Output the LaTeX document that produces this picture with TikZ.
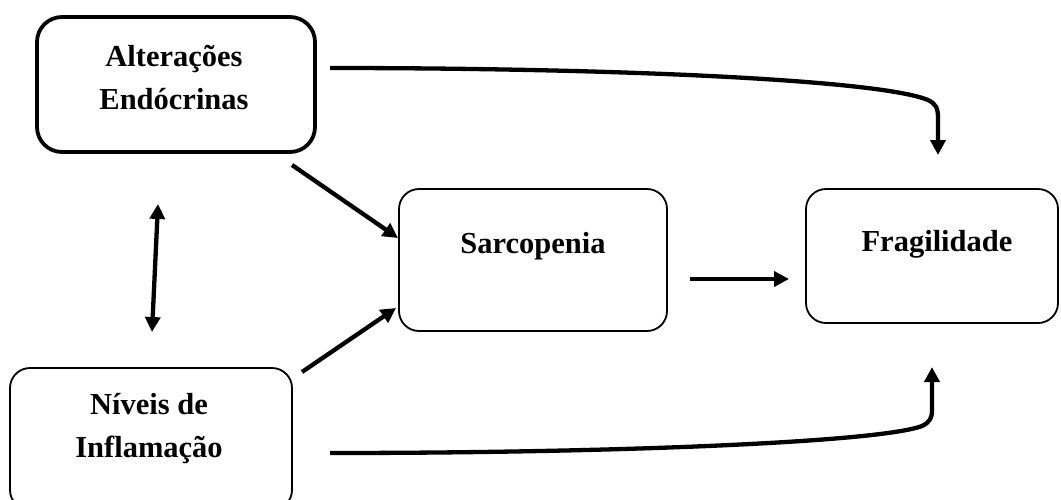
\documentclass[tikz,border=0pt]{standalone}
\usepackage{fontspec}
\setmainfont{Liberation Serif}
\usetikzlibrary{arrows.meta}
\begin{document}
\begin{tikzpicture}[x=1pt,y=-1pt,
  box/.style={draw,rounded corners=20pt,line width=1.8pt,inner sep=0pt},
  lbl/.style={font=\bfseries\fontsize{30.5}{43}\selectfont,align=center,inner sep=0pt},
  arr/.style={line width=4.3pt,line join=round,-{Triangle[length=15pt,width=15pt]}},
  darr/.style={line width=4.3pt,{Triangle[length=15pt,width=15pt]}-{Triangle[length=15pt,width=15pt]}}]
\useasboundingbox (0,0) rectangle (1061,499);
% boxes
\node[box,line width=3.8pt,rounded corners=25pt,minimum width=278pt,minimum height=135pt] (alt) at (176,84.5) {};
\node[box,minimum width=268pt,minimum height=142pt] (sar) at (533,260) {};
\node[box,minimum width=252pt,minimum height=134pt] (fra) at (932,256) {};
\node[box,minimum width=282pt,minimum height=142pt] (niv) at (151,439) {};
% labels
\node[lbl] (altt) at (174,78) {Alterações\\Endócrinas};
\node[lbl] (sart) at (533,246) {Sarcopenia};
\node[lbl] (frat) at (937,244) {Fragilidade};
\node[lbl] (nivt) at (149,429) {Níveis de\\Inflamação};
% connector end points
\coordinate (a1) at (330,68);
\coordinate (a2) at (938,155);
\coordinate (b1) at (330,453);
\coordinate (b2) at (932,367);
\coordinate (d1) at (158,204);
\coordinate (d2) at (152,332);
\coordinate (e1) at (292,165);
\coordinate (e2) at (398,238);
\coordinate (f1) at (302,372);
\coordinate (f2) at (396,308);
\coordinate (g1) at (690,279);
\coordinate (g2) at (789,279);
% connectors
\draw[arr] (a1) .. controls (620,68) and (880,80) .. (928,100) .. controls (936,104) and (938,108) .. (938,118) -- (a2);
\draw[arr] (b1) .. controls (620,453) and (880,442) .. (922,426) .. controls (930,422) and (932,418) .. (932,410) -- (b2);
\draw[darr] (d1) -- (d2);
\draw[arr] (e1) -- (e2);
\draw[arr] (f1) -- (f2);
\draw[arr] (g1) -- (g2);
\end{tikzpicture}
\end{document}
